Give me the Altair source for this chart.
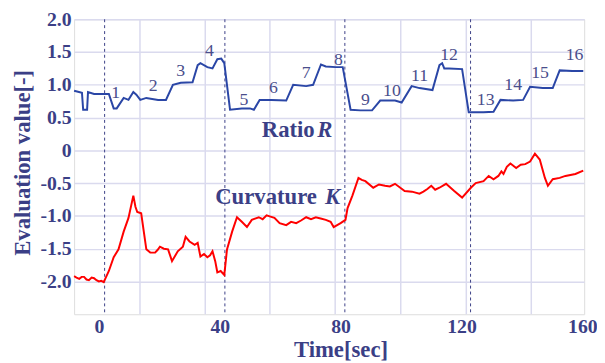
import altair as alt
import pandas as pd

# Ratio R (blue)
r_time = [-8.2, -5.6, -5.2, -3.9, -3.6, -1.6, 3.3, 4.9, 5.9, 8.2, 9.8, 11.4, 12.4, 13.7, 15.7, 19.6, 22.2,
          24.5, 27.1, 31.0, 32.7, 33.6, 35.9, 37.6, 39.2, 40.5, 41.5, 43.4, 47.3, 50.0, 51.3, 53.2, 57.1,
          62.0, 64.3, 68.6, 70.9, 73.5, 75.1, 78.4, 80.7, 83.3, 86.5, 90.4, 93.1, 98.0, 100.2, 103.5, 106.1,
          110.4, 112.7, 113.6, 114.3, 115.9, 120.2, 122.4, 127.3, 130.6, 132.9, 137.1, 140.4, 142.7, 146.9,
          150.2, 152.5, 156.7, 160.3]
r_value = [0.91, 0.88, 0.62, 0.62, 0.89, 0.86, 0.86, 0.64, 0.64, 0.80, 0.77, 0.89, 0.85, 0.77, 0.80, 0.77, 0.77,
           1.00, 1.03, 1.04, 1.30, 1.33, 1.27, 1.25, 1.39, 1.40, 1.33, 0.62, 0.64, 0.64, 0.62, 0.77, 0.77,
           0.76, 1.00, 0.98, 1.00, 1.31, 1.28, 1.27, 1.27, 0.62, 0.61, 0.61, 0.76, 0.76, 0.73, 0.98, 0.95,
           0.92, 1.30, 1.33, 1.25, 1.25, 1.24, 0.58, 0.58, 0.59, 0.77, 0.76, 0.77, 0.97, 0.95,
           0.95, 1.22, 1.21, 1.21]

# Curvature K (red)
k_time = [-8.2, -7.4, -6.5, -5.7, -4.9, -4.1, -3.3, -2.4, -1.6, -0.8, 0.0, 0.8, 1.6, 3.3, 4.9, 6.5, 8.2, 9.8,
          11.4, 12.1, 12.7, 14.0, 15.7, 17.0, 18.6, 19.4,
          20.2, 21.5, 22.9, 24.2, 26.1, 27.8, 28.7, 30.0, 31.7, 32.7, 33.6, 34.8, 35.9, 36.8, 37.6, 38.5, 39.2,
          40.3, 41.5, 42.4, 44.1,
          45.7, 47.3, 49.0, 50.6, 52.9, 54.2, 55.5, 56.8, 58.1, 59.8, 62.0, 63.6, 65.3, 66.9, 68.6, 70.2, 71.8,
          73.4, 75.1, 76.7, 77.7, 80.0, 81.6,
          82.3, 83.9, 85.9, 87.0, 88.2, 90.8, 92.7, 94.7, 96.3, 98.0, 101.2, 103.6, 106.1, 107.4, 108.7, 110.0,
          111.3, 112.7, 114.9, 117.6, 120.2,
          123.1, 124.7, 127.3, 129.0, 130.6, 132.2, 133.2, 133.9, 135.0, 136.2, 138.1, 139.6, 141.1, 142.7,
          144.3, 145.9, 147.6, 148.6, 150.2, 152.5, 154.4, 157.7, 160.3]
k_value = [-1.92, -1.94, -1.96, -1.93, -1.93, -1.97, -1.98, -1.94, -1.95, -1.98, -2.00, -1.99, -2.01, -1.84,
           -1.63, -1.51, -1.24, -1.03, -0.69, -0.86, -0.94, -0.96, -1.51, -1.56, -1.56, -1.52,
           -1.47, -1.50, -1.51, -1.69, -1.54, -1.47, -1.32, -1.39, -1.44, -1.41, -1.62, -1.58, -1.63, -1.60,
           -1.54, -1.69, -1.86, -1.84, -1.90, -1.51, -1.24,
           -1.02, -1.09, -1.17, -1.06, -1.02, -1.05, -0.99, -1.01, -1.03, -1.11, -1.14, -1.09, -1.11, -1.07,
           -1.02, -1.05, -1.02, -1.04, -1.06, -1.09, -1.17, -1.11, -1.06,
           -0.88, -0.69, -0.42, -0.45, -0.47, -0.57, -0.52, -0.54, -0.55, -0.51, -0.62, -0.63, -0.66, -0.63,
           -0.59, -0.54, -0.60, -0.57, -0.51, -0.62, -0.72,
           -0.57, -0.50, -0.47, -0.39, -0.44, -0.39, -0.32, -0.36, -0.25, -0.20, -0.27, -0.22, -0.21, -0.17,
           -0.05, -0.14, -0.42, -0.54, -0.44, -0.42, -0.39, -0.36, -0.31]

# step numbers
step_label = [str(i) for i in range(1, 17)]
step_time = [5.6, 18.0, 27.1, 36.6, 48.0, 57.8, 68.6, 79.3, 88.2, 97.0, 106.1, 115.9, 128.0, 137.1, 146.0, 157.4]
step_value = [0.88, 0.98, 1.21, 1.52, 0.77, 0.95, 1.18, 1.37, 0.77, 0.91, 1.13, 1.45, 0.77, 1.00, 1.18, 1.45]

# event markers (dashed) and vertical grid
event_time = [1.9, 41.7, 81.4, 123.0]
grid_time = [13.6, 35.2, 56.6, 78.2, 99.9, 121.6, 143.1]

x_ticks = [0, 40, 80, 120, 160]
y_ticks = [-2.0, -1.5, -1.0, -0.5, 0.0, 0.5, 1.0, 1.5, 2.0]

NAVY = "#3b3f86"
FONT = "Liberation Serif, Times New Roman, DejaVu Serif, serif"

xscale = alt.Scale(domain=[-8.2, 160.6], nice=False, zero=False)
yscale = alt.Scale(domain=[-2.5, 2.0], nice=False, zero=False)

xaxis = alt.Axis(values=x_ticks, grid=False, ticks=False, domain=False, title="Time[sec]",
                 labelFont=FONT, labelFontSize=20, labelFontWeight="bold", labelColor=NAVY, labelPadding=2,
                 titleFont=FONT, titleFontSize=23, titleFontWeight="bold", titleColor=NAVY,
                 titleX=270, titleY=36, titleBaseline="middle", titleAlign="center", labelFlush=False)
yaxis = alt.Axis(values=y_ticks, grid=True, gridColor="#dadaee", gridWidth=1.5, ticks=False, domain=False,
                 title="Evaluation value[-]",
                 labelExpr="datum.value == 0 ? '0' : (datum.value < 0 ? '-' : '') + format(abs(datum.value), '.1f')",
                 labelFont=FONT, labelFontSize=20, labelFontWeight="bold", labelColor=NAVY, labelPadding=3,
                 titleFont=FONT, titleFontSize=23, titleFontWeight="bold", titleColor=NAVY,
                 titleX=-52, titleY=145, titleBaseline="middle", titleAlign="center")

X = alt.X("t:Q", scale=xscale, axis=xaxis)
Y = alt.Y("v:Q", scale=yscale, axis=yaxis)

grid_df = pd.DataFrame({"t": grid_time})
grid = alt.Chart(grid_df).mark_rule(color="#dadaee", strokeWidth=1.5).encode(x=X)

ev_df = pd.DataFrame({"t": event_time})
events = alt.Chart(ev_df).mark_rule(color=NAVY, strokeWidth=1.0, strokeDash=[3, 3]).encode(x=X)

r_df = pd.DataFrame({"t": r_time, "v": r_value})
r_line = alt.Chart(r_df).mark_line(color="#2a46a6", strokeWidth=2, interpolate="linear").encode(x=X, y=Y)

k_df = pd.DataFrame({"t": k_time, "v": k_value})
k_line = alt.Chart(k_df).mark_line(color="#ff0000", strokeWidth=2, interpolate="linear").encode(x=X, y=Y)

s_df = pd.DataFrame({"t": step_time, "v": step_value, "s": step_label})
steps = alt.Chart(s_df).mark_text(font=FONT, fontSize=18, color="#4a4e8c", align="center",
                                  baseline="middle").encode(x=X, y=Y, text="s:N")

ann_df = pd.DataFrame({
    "t": [53.9, 72.3, 38.5, 74.8],
    "v": [0.31, 0.31, -0.72, -0.72],
    "txt": ["Ratio", "R", "Curvature", "K"],
    "sty": ["normal", "italic", "normal", "italic"],
})
ann_n = alt.Chart(ann_df).transform_filter("datum.sty == 'normal'").mark_text(
    font=FONT, fontSize=23, fontWeight="bold", color=NAVY, align="left", baseline="middle"
).encode(x=X, y=Y, text="txt:N")
ann_i = alt.Chart(ann_df).transform_filter("datum.sty == 'italic'").mark_text(
    font=FONT, fontSize=23, fontWeight="bold", fontStyle="italic", color=NAVY, align="left", baseline="middle"
).encode(x=X, y=Y, text="txt:N")

chart = alt.layer(grid, events, r_line, k_line, steps, ann_n, ann_i).properties(
    width=517, height=299,
    autosize=alt.AutoSizeParams(type="none"),
    padding={"left": 67, "top": 9, "right": 13, "bottom": 47},
).configure_view(stroke="#d2d2ea", strokeWidth=2).configure(background="white")

chart.save("out.html", embed_options={"renderer": "svg", "actions": False})
